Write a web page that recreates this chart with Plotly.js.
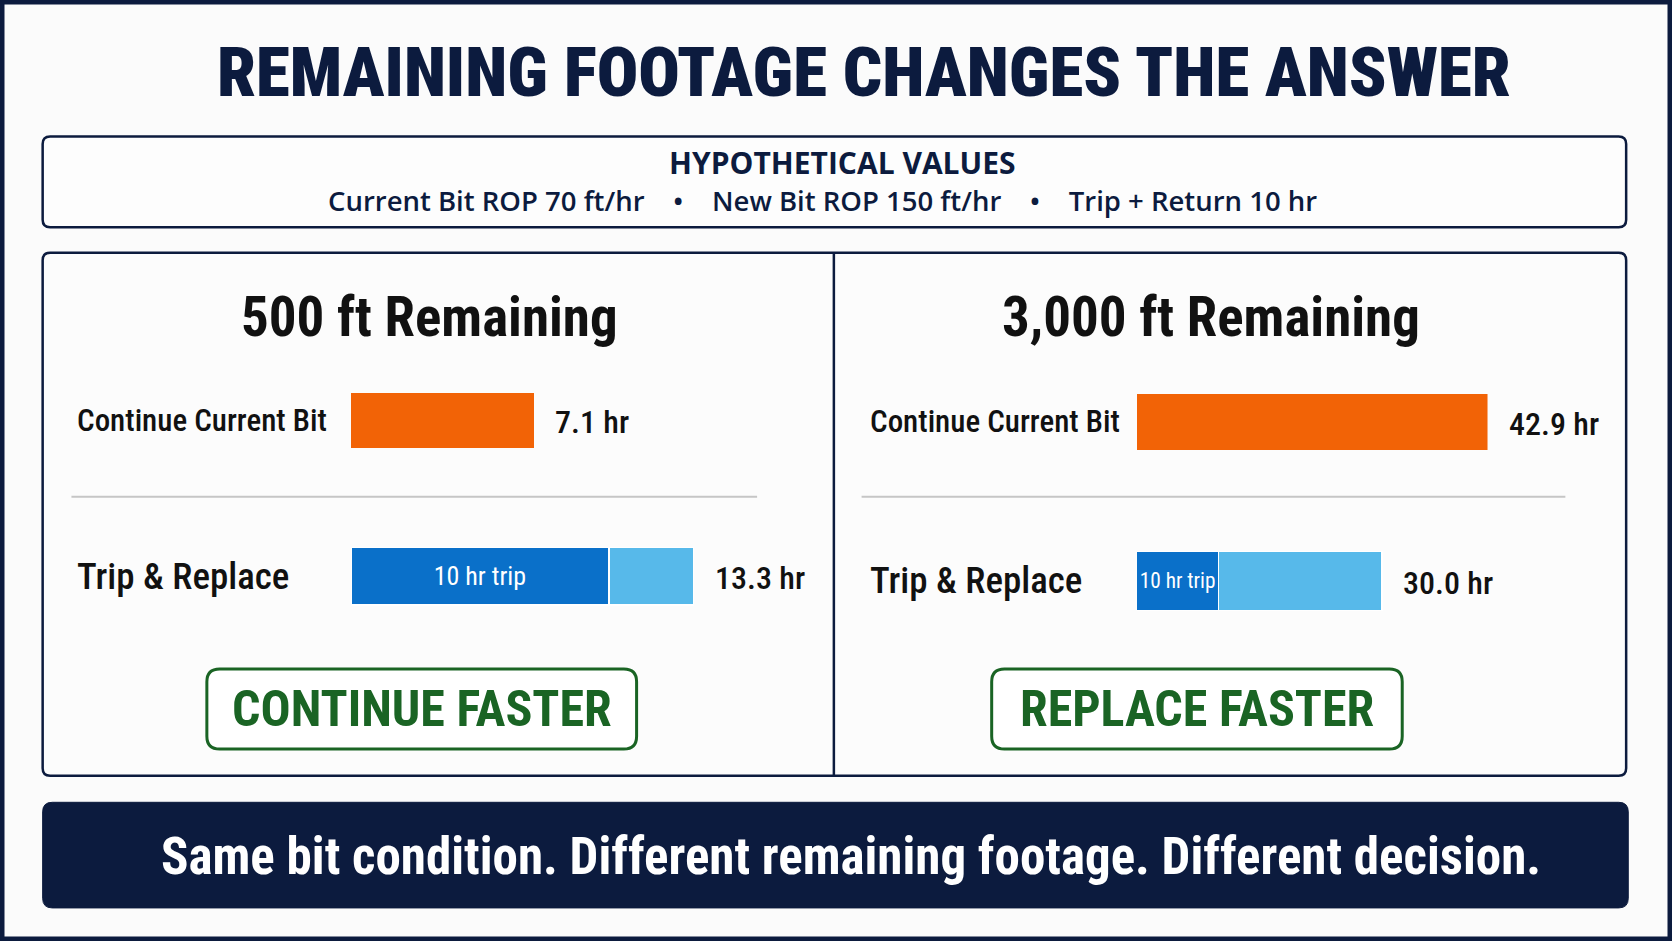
<!DOCTYPE html>
<html>
<head>
<meta charset="utf-8">
<script src="https://cdn.plot.ly/plotly-3.0.1.min.js"></script>
<style>
  html, body { margin: 0; padding: 0; background: #fbfbfb; }
  #chart { width: 1672px; height: 941px; }
</style>
</head>
<body>
<div id="chart"></div>
<script>
// hypothetical inputs and the two scenarios
const headline = "REMAINING FOOTAGE CHANGES THE ANSWER";
const assumptionsTitle = "HYPOTHETICAL VALUES";
const assumptions = ["Current Bit ROP 70 ft/hr", "New Bit ROP 150 ft/hr", "Trip + Return 10 hr"];
const panelTitles = ["500 ft Remaining", "3,000 ft Remaining"];
const rowLabels = ["Continue Current Bit", "Trip & Replace"];
const continueHours = [7.1, 42.9];
const tripHours = [10, 10];
const newBitHours = [3.3, 20.0];
const tripLabel = "10 hr trip";
const verdicts = ["CONTINUE FASTER", "REPLACE FASTER"];
const footerText = "Same bit condition. Different remaining footage. Different decision.";

const NAVY = "#0c1b3e";
const ORANGE = "#f26306";
const TRIP_BLUE = "#0a70c9";
const NEW_BLUE = "#57b9ea";
const GREEN = "#1a6424";
const COND = '"Roboto Condensed", "DejaVu Sans Condensed", sans-serif';
const OPEN = '"Open Sans", "Noto Sans", sans-serif';

// layout was measured on a 1568x882 copy, convert to paper fractions
const px = (x) => x / 1568;
const py = (y) => 1 - y / 882;

function roundRect(x0, y0, x1, y1, r) {
  const P = (x, y) => px(x).toFixed(5) + "," + py(y).toFixed(5);
  return "M" + P(x0 + r, y0) + " L" + P(x1 - r, y0) + " Q" + P(x1, y0) + " " + P(x1, y0 + r) +
    " L" + P(x1, y1 - r) + " Q" + P(x1, y1) + " " + P(x1 - r, y1) +
    " L" + P(x0 + r, y1) + " Q" + P(x0, y1) + " " + P(x0, y1 - r) +
    " L" + P(x0, y0 + r) + " Q" + P(x0, y0) + " " + P(x0 + r, y0) + " Z";
}

function note(x, y, text, font, extra) {
  return Object.assign({ xref: "paper", yref: "paper", x: px(x), y: py(y), xanchor: "center", yanchor: "middle",
    showarrow: false, text: text, font: font }, extra || {});
}

// per panel: where the bars start/end and where the rows sit
const panels = [
  { barX: [329, 651], rows: [613, 321], labelX: 70, titleX: 403, verdictX: 396, box: [194, 597], rule: [67, 710] },
  { barX: [1066, 1395], rows: [619, 321], labelX: 814, titleX: 1136, verdictX: 1123, box: [930, 1315], rule: [808, 1468] },
];

var data = [];
var annotations = [];
var shapes = [];
var layout = {
  width: 1672,
  height: 941,
  margin: { l: 0, r: 0, t: 0, b: 0 },
  paper_bgcolor: "#fbfbfb",
  plot_bgcolor: "rgba(0,0,0,0)",
  barmode: "stack",
  showlegend: false,
};

// frames and boxes
shapes.push(
  { type: "path", xref: "paper", yref: "paper", layer: "below", path: roundRect(40, 128, 1525, 213, 7),
    fillcolor: "#fdfdfd", line: { color: NAVY, width: 2.5 } },
  { type: "path", xref: "paper", yref: "paper", layer: "below", path: roundRect(40, 237, 1525, 727, 7),
    fillcolor: "#fcfcfc", line: { color: NAVY, width: 2.5 } },
  { type: "line", xref: "paper", yref: "paper", layer: "below", x0: px(782), x1: px(782), y0: py(237), y1: py(727),
    line: { color: NAVY, width: 2.5 } },
  { type: "path", xref: "paper", yref: "paper", layer: "below", path: roundRect(40, 752, 1527, 851, 9),
    fillcolor: NAVY, line: { color: NAVY, width: 1 } }
);

panels.forEach((p, i) => {
  const sfx = i === 0 ? "" : String(i + 1);
  const xa = "x" + sfx, ya = "y" + sfx;
  const totals = [continueHours[i], tripHours[i] + newBitHours[i]];
  const hidden = { showgrid: false, zeroline: false, showticklabels: false, showline: false, ticks: "", fixedrange: true };

  layout["xaxis" + sfx] = Object.assign({ domain: [px(p.barX[0]), px(p.barX[1])], range: [0, Math.max(...totals)], anchor: ya }, hidden);
  layout["yaxis" + sfx] = Object.assign({
    domain: [py(p.rows[0]), py(p.rows[1])], range: [-0.5, 1.5], anchor: xa,
    type: "category", categoryorder: "array", categoryarray: [rowLabels[1], rowLabels[0]],
  }, hidden);

  data.push({
    type: "bar", orientation: "h", xaxis: xa, yaxis: ya,
    x: [continueHours[i]], y: [rowLabels[0]], width: 0.35,
    marker: { color: ORANGE }, hoverinfo: "skip",
  });
  data.push({
    type: "bar", orientation: "h", xaxis: xa, yaxis: ya,
    x: [tripHours[i]], y: [rowLabels[1]], width: 0.37,
    marker: { color: TRIP_BLUE, line: { color: "#ffffff", width: 1.5 } },
    text: [tripLabel], textposition: "inside", insidetextanchor: "middle", cliponaxis: false,
    textfont: { family: COND, size: 26, color: "#ffffff" }, hoverinfo: "skip",
  });
  data.push({
    type: "bar", orientation: "h", xaxis: xa, yaxis: ya,
    x: [newBitHours[i]], y: [rowLabels[1]], width: 0.37,
    marker: { color: NEW_BLUE, line: { color: "#ffffff", width: 1.5 } }, hoverinfo: "skip",
  });

  // totals next to the bar ends
  totals.forEach((t, r) => {
    annotations.push({
      xref: xa, yref: ya, x: t, y: rowLabels[r], xanchor: "left", yanchor: "middle", xshift: 19, yshift: -2,
      showarrow: false, text: t.toFixed(1) + " hr",
      font: { family: COND, size: 32, weight: 500, color: "#111111" },
    });
  });

  // row labels
  rowLabels.forEach((lab, r) => {
    annotations.push({
      xref: "paper", yref: ya, x: px(p.labelX), y: lab, xanchor: "left", yanchor: "middle", showarrow: false,
      text: lab, font: { family: COND, size: r === 0 ? 31 : 37, weight: 500, color: "#111111" },
    });
  });

  annotations.push(note(p.titleX, 297, panelTitles[i], { family: COND, size: 55, weight: "bold", color: "#111111" }));
  annotations.push(note(p.verdictX, 665, verdicts[i], { family: COND, size: 50, weight: "bold", color: GREEN }));

  shapes.push({ type: "line", xref: "paper", yref: "paper", layer: "below",
    x0: px(p.rule[0]), x1: px(p.rule[1]), y0: py(465.5), y1: py(465.5),
    line: { color: "#c6c6c6", width: 2 } });
  shapes.push({ type: "path", xref: "paper", yref: "paper", layer: "below",
    path: roundRect(p.box[0], 627, p.box[1], 702, 12),
    fillcolor: "#ffffff", line: { color: GREEN, width: 3 } });
});

shapes.push({ type: "rect", xref: "paper", yref: "paper", x0: 0, x1: 1, y0: 0, y1: 1,
  line: { color: NAVY, width: 9 }, fillcolor: "rgba(0,0,0,0)" });

annotations.push(
  note(810, 68, headline, { family: COND, size: 69, weight: 900, color: NAVY }),
  note(790, 152, assumptionsTitle, { family: OPEN, size: 30, weight: 700, color: NAVY }),
  note(771, 188, assumptions.join("\u00A0\u00A0\u00A0\u00A0•\u00A0\u00A0\u00A0\u00A0"),
    { family: OPEN, size: 27.5, weight: 600, color: NAVY }),
  note(798, 803, footerText, { family: COND, size: 51, weight: "bold", color: "#ffffff" })
);

layout.shapes = shapes;
layout.annotations = annotations;

Plotly.newPlot("chart", data, layout, { displayModeBar: false, staticPlot: true });
</script>
</body>
</html>
